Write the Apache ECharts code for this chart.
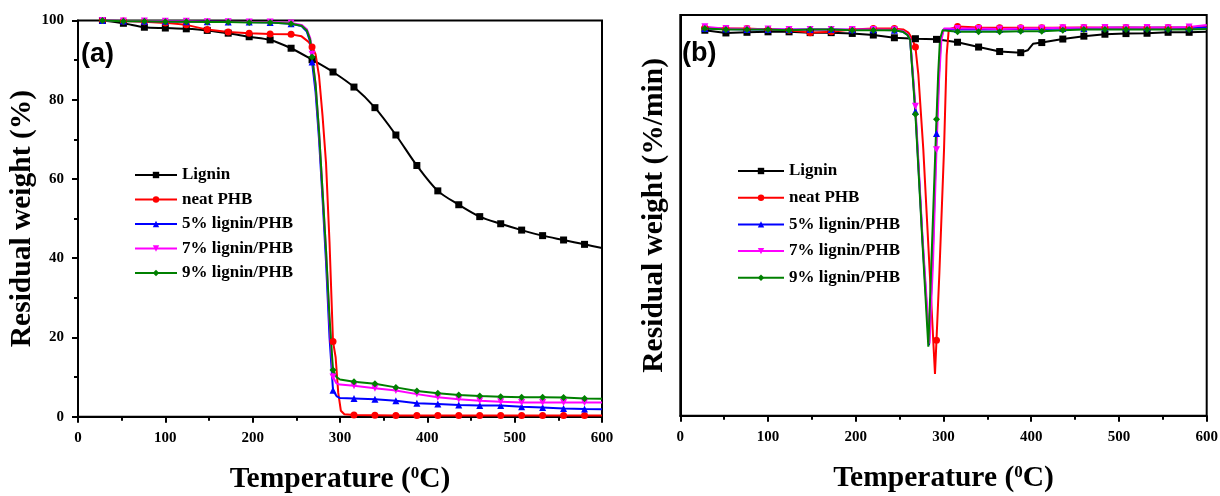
<!DOCTYPE html>
<html>
<head>
<meta charset="utf-8">
<script src="https://cdn.jsdelivr.net/npm/echarts@6/dist/echarts.min.js"></script>
<style>
html, body { margin: 0; padding: 0; background: #fff; }
#main { width: 1220px; height: 496px; }
</style>
</head>
<body>
<div id="main"></div>
<script>
// series names (legend order)
var seriesNames = ['Lignin', 'neat PHB', '5% lignin/PHB', '7% lignin/PHB', '9% lignin/PHB'];
var xTicks = [0, 100, 200, 300, 400, 500, 600];
var yTicksA = [0, 20, 40, 60, 80, 100];

// (a) TGA: [temperature (oC), residual weight (%)]
var tgaLignin = [[28,100],[52,99.3],[76,98.3],[100,98.1],[124,97.9],[148,97.5],[172,96.8],[196,95.9],[220,95.1],[244,93.0],[268,90.1],[292,87.0],[316,83.2],[340,78.0],[364,71.1],[388,63.4],[412,57.0],[436,53.5],[460,50.5],[484,48.7],[508,47.1],[532,45.7],[556,44.6],[580,43.5],[600,42.6]];
var tgaPHB = [[28,100],[52,99.9],[76,99.7],[100,99.4],[124,98.9],[148,97.7],[172,97.1],[196,96.8],[220,96.6],[244,96.5],[256,96.0],[264,94.6],[268,93.3],[272,91.5],[276,86],[280,76],[284,64],[288,44],[292,19],[295,15],[298,6],[301,1.5],[305,0.6],[316,0.4],[340,0.35],[364,0.3],[388,0.3],[412,0.3],[436,0.3],[460,0.3],[484,0.3],[508,0.3],[532,0.3],[556,0.3],[580,0.3],[600,0.3]];
var tga5 = [[28,100],[52,99.9],[76,99.8],[100,99.8],[124,99.7],[148,99.7],[172,99.6],[196,99.6],[220,99.5],[244,99.2],[256,98.6],[262,97.2],[266,94.5],[268,89.5],[272,82],[276,70],[280,55],[284,39],[288,20],[292,6.7],[296,5.2],[300,4.7],[316,4.6],[340,4.4],[364,4.0],[388,3.4],[412,3.2],[436,2.95],[460,2.8],[484,2.8],[508,2.5],[532,2.3],[556,2.1],[580,1.95],[600,1.9]];
var tga7 = [[28,100],[52,99.9],[76,99.9],[100,99.8],[124,99.8],[148,99.7],[172,99.7],[196,99.6],[220,99.6],[244,99.4],[256,98.9],[262,97.8],[266,95.5],[268,91.5],[272,84],[276,72],[280,57],[284,42],[288,24],[292,10],[296,8.4],[300,8.1],[316,7.8],[340,7.2],[364,6.6],[388,5.7],[412,4.9],[436,4.4],[460,4.0],[484,3.8],[508,3.6],[532,3.6],[556,3.6],[580,3.6],[600,3.6]];
var tga9 = [[28,100],[52,99.8],[76,99.8],[100,99.7],[124,99.7],[148,99.6],[172,99.6],[196,99.5],[220,99.5],[244,99.2],[256,98.7],[262,97.5],[266,95],[268,90.8],[272,84],[276,72],[280,57],[284,42],[288,25],[292,11.8],[296,10],[300,9.4],[316,8.8],[340,8.3],[364,7.4],[388,6.5],[412,5.9],[436,5.5],[460,5.2],[484,5.05],[508,4.9],[532,4.9],[556,4.85],[580,4.6],[600,4.5]];

// (b) DTG: [temperature (oC), rate (arbitrary, %/min)]
var dtgLignin = [[28,0.05],[52,-0.12],[76,-0.08],[100,-0.05],[124,-0.05],[148,-0.1],[172,-0.1],[196,-0.15],[220,-0.25],[244,-0.42],[268,-0.48],[292,-0.52],[316,-0.7],[340,-1.0],[364,-1.28],[388,-1.35],[396,-1.2],[402,-0.8],[412,-0.72],[436,-0.5],[460,-0.32],[484,-0.2],[508,-0.16],[532,-0.14],[556,-0.08],[580,-0.08],[600,-0.04]];
var dtgPHB = [[28,0.2],[52,0.15],[76,0.15],[100,0.1],[124,0.05],[148,-0.1],[172,-0.05],[196,0.1],[220,0.15],[244,0.15],[254,0.1],[260,-0.1],[264,-0.45],[268,-1.0],[271.3,-2.7],[277,-7.4],[283.5,-14.2],[290.3,-21.4],[292,-19.3],[295.3,-15.1],[300.6,-7.4],[303.6,-1.5],[306,0.1],[316,0.28],[340,0.22],[364,0.2],[388,0.2],[412,0.2],[436,0.2],[460,0.22],[484,0.2],[508,0.22],[532,0.2],[556,0.22],[580,0.2],[600,0.25]];
var dtg5 = [[28,0.15],[52,0.12],[76,0.1],[100,0.1],[124,0.1],[148,0.1],[172,0.1],[196,0.08],[220,0.08],[244,0.05],[254,-0.05],[259,-0.25],[262,-0.55],[268,-5.0],[276,-13.0],[283.5,-19.6],[288,-13.5],[292,-6.4],[294.5,-3.0],[297,-0.5],[300,0.1],[316,0.1],[340,0.1],[364,0.1],[388,0.12],[412,0.12],[436,0.15],[460,0.15],[484,0.2],[508,0.2],[532,0.2],[556,0.2],[580,0.2],[600,0.22]];
var dtg7 = [[28,0.27],[52,0.15],[76,0.12],[100,0.12],[124,0.1],[148,0.1],[172,0.1],[196,0.1],[220,0.1],[244,0.08],[254,0.0],[259,-0.2],[262,-0.45],[268,-4.7],[276,-12.8],[284,-19.5],[288,-14.5],[292,-7.4],[295,-3.0],[297.5,-0.6],[300.5,0.15],[316,0.15],[340,0.15],[364,0.12],[388,0.15],[412,0.18],[436,0.2],[460,0.2],[484,0.22],[508,0.2],[532,0.22],[556,0.2],[580,0.25],[600,0.38]];
var dtg9 = [[28,0.15],[52,0.1],[76,0.1],[100,0.1],[124,0.05],[148,0.1],[172,0.1],[196,0.05],[220,0.05],[244,0.05],[254,-0.05],[259,-0.25],[262,-0.55],[268,-5.2],[276,-13.2],[282.7,-19.7],[287,-13.2],[292,-5.5],[294,-2.6],[296,-0.5],[299,0.05],[316,-0.04],[340,-0.04],[364,-0.04],[388,-0.02],[412,-0.02],[436,0.05],[460,0.1],[484,0.1],[508,0.1],[532,0.1],[556,0.1],[580,0.1],[600,0.12]];

var colors = ['#000000', '#ff0000', '#0000ff', '#ff00ff', '#008000'];
var symbols = ['rect', 'circle', 'triangle', 'triangle', 'diamond'];
var rotates = [0, 0, 0, 180, 0];
var serif = '"Liberation Serif", "Times New Roman", serif';

// markers are drawn only every 24 oC, like the instrument export
function withMarkers(points) {
	return points.map(function(p) {
		return (p[0] - 4) % 24 === 0 ? p : { value: p, symbol: 'none' };
	});
}

function makeSeries(i, data, axis, smooth) {
	return {
		name: seriesNames[i],
		type: 'line',
		xAxisIndex: axis,
		yAxisIndex: axis,
		data: withMarkers(data),
		symbol: symbols[i],
		symbolRotate: rotates[i],
		symbolSize: 7,
		smooth: smooth,
		lineStyle: { width: 2, color: colors[i] },
		itemStyle: { color: colors[i] },
		emphasis: { disabled: true },
		animation: false
	};
}

var axisLabelStyle = { fontFamily: serif, fontWeight: 'bold', fontSize: 15, color: '#000' };
var nameStyle = {
	fontFamily: serif, fontWeight: 'bold', fontSize: 29.5, color: '#000',
	rich: { sup: { fontFamily: serif, fontWeight: 'bold', fontSize: 17, color: '#000', verticalAlign: 'top' } }
};

function xAxis(idx) {
	return {
		type: 'value', gridIndex: idx, min: 0, max: 600, interval: 100,
		name: 'Temperature ({sup|0}C)', nameLocation: 'middle', nameGap: 48,
		nameTextStyle: nameStyle,
		axisLine: { onZero: false, lineStyle: { color: '#000', width: 2 } },
		axisTick: { length: 6, lineStyle: { color: '#000', width: 2 } },
		minorTick: { show: true, splitNumber: 2, length: 4, lineStyle: { color: '#000', width: 2 } },
		axisLabel: Object.assign({ margin: 14 }, axisLabelStyle),
		splitLine: { show: false }
	};
}

var legendText = { fontFamily: serif, fontWeight: 'bold', fontSize: 17, color: '#000', lineHeight: 20 };

var chart = echarts.init(document.getElementById('main'));
var option = {
	backgroundColor: '#fff',
	animation: false,
	grid: [
		{ left: 78, right: 618, top: 20.5, bottom: 79.3, outerBoundsMode: 'none', show: true, borderColor: '#000', borderWidth: 2 },
		{ left: 680.3, right: 13.3, top: 15, bottom: 80.3, outerBoundsMode: 'none', show: true, borderColor: '#000', borderWidth: 2 }
	],
	xAxis: [xAxis(0), xAxis(1)],
	yAxis: [{
		type: 'value', gridIndex: 0, min: 0, max: 100, interval: 20,
		name: 'Residual weight (%)', nameLocation: 'middle', nameGap: 31,
		nameTextStyle: nameStyle,
		axisLine: { show: true, onZero: false, lineStyle: { color: '#000', width: 2 } },
		axisTick: { show: true, length: 6, lineStyle: { color: '#000', width: 2 } },
		minorTick: { show: true, splitNumber: 2, length: 4, lineStyle: { color: '#000', width: 2 } },
		axisLabel: Object.assign({ margin: 14 }, axisLabelStyle),
		splitLine: { show: false }
	}, {
		type: 'value', gridIndex: 1, min: -24, max: 1,
		name: 'Residual weight (%/min)', nameLocation: 'middle', nameGap: 11,
		nameTextStyle: nameStyle,
		axisLine: { show: true, onZero: false, lineStyle: { color: '#000', width: 2 } },
		axisTick: { show: false },
		axisLabel: { show: false },
		splitLine: { show: false }
	}],
	legend: [{
		left: 134, top: 165, padding: 0, orient: 'vertical', itemWidth: 42, itemHeight: 8, itemGap: 4.5,
		data: seriesNames, selectedMode: false, textStyle: legendText
	}, {
		left: 737, top: 161, padding: 0, orient: 'vertical', itemWidth: 46, itemHeight: 8, itemGap: 6.7,
		data: seriesNames, selectedMode: false, textStyle: legendText
	}],
	graphic: [
		{ type: 'text', left: 81, top: 41, style: { text: '(a)', font: 'bold 27px "Liberation Sans", Arial, sans-serif', fill: '#000' } },
		{ type: 'text', left: 682, top: 40, style: { text: '(b)', font: 'bold 27px "Liberation Sans", Arial, sans-serif', fill: '#000' } }
	],
	series: [
		makeSeries(0, tgaLignin, 0, 0.3),
		makeSeries(1, tgaPHB, 0, false),
		makeSeries(2, tga5, 0, false),
		makeSeries(3, tga7, 0, false),
		makeSeries(4, tga9, 0, false),
		makeSeries(0, dtgLignin, 1, false),
		makeSeries(1, dtgPHB, 1, false),
		makeSeries(2, dtg5, 1, false),
		makeSeries(3, dtg7, 1, false),
		makeSeries(4, dtg9, 1, false)
	]
};
chart.setOption(option);
</script>
</body>
</html>
